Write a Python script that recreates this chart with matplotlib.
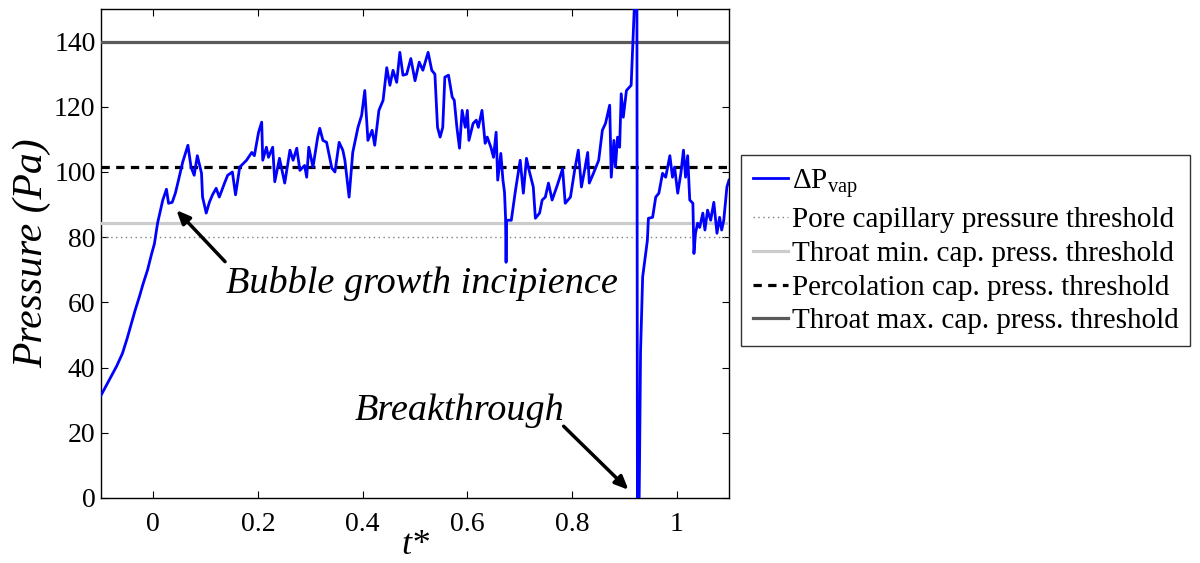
import matplotlib
matplotlib.use("Agg")
import matplotlib.pyplot as plt

plt.rcParams['font.family'] = ['Liberation Serif', 'DejaVu Serif']
plt.rcParams['mathtext.fontset'] = 'custom'
plt.rcParams['mathtext.rm'] = 'Liberation Serif'
plt.rcParams['mathtext.it'] = 'Liberation Serif:italic'

# Time (t*) and vapour pressure difference (Pa)
t_star = [-0.100, -0.085, -0.070, -0.059, -0.050, -0.042, -0.035, -0.027, -0.020, -0.011,
          -0.004, 0.002, 0.008, 0.018, 0.025, 0.029, 0.036, 0.042, 0.048, 0.056,
          0.066, 0.072, 0.078, 0.084, 0.092, 0.094, 0.101, 0.107, 0.113, 0.120,
          0.126, 0.136, 0.142, 0.151, 0.157, 0.165, 0.178, 0.188, 0.193, 0.201,
          0.207, 0.209, 0.216, 0.220, 0.228, 0.232, 0.241, 0.247, 0.251, 0.261,
          0.267, 0.274, 0.280, 0.289, 0.293, 0.297, 0.305, 0.314, 0.318, 0.324,
          0.331, 0.341, 0.347, 0.355, 0.362, 0.366, 0.374, 0.381, 0.391, 0.398,
          0.404, 0.410, 0.418, 0.423, 0.431, 0.439, 0.446, 0.452, 0.458, 0.465,
          0.471, 0.477, 0.484, 0.492, 0.500, 0.508, 0.515, 0.525, 0.532, 0.538,
          0.543, 0.548, 0.553, 0.557, 0.564, 0.571, 0.575, 0.580, 0.585, 0.590,
          0.596, 0.600, 0.603, 0.611, 0.617, 0.621, 0.628, 0.634, 0.638, 0.645,
          0.650, 0.655, 0.658, 0.664, 0.668, 0.671, 0.673, 0.674, 0.675, 0.684,
          0.692, 0.701, 0.707, 0.713, 0.718, 0.726, 0.730, 0.738, 0.743, 0.749,
          0.755, 0.762, 0.772, 0.782, 0.787, 0.797, 0.805, 0.812, 0.818, 0.824,
          0.830, 0.833, 0.841, 0.851, 0.858, 0.864, 0.872, 0.875, 0.880, 0.883,
          0.887, 0.891, 0.894, 0.898, 0.904, 0.908, 0.913, 0.917, 0.921, 0.924,
          0.925, 0.928, 0.929, 0.931, 0.935, 0.940, 0.944, 0.946, 0.954, 0.960,
          0.966, 0.973, 0.979, 0.987, 0.992, 0.996, 1.002, 1.008, 1.013, 1.017,
          1.021, 1.025, 1.031, 1.033, 1.036, 1.040, 1.044, 1.050, 1.054, 1.059,
          1.065, 1.071, 1.077, 1.082, 1.086, 1.090, 1.096, 1.100]
dp_vap = [31.5, 36.0, 40.5, 44.4, 49.0, 53.6, 57.5, 61.6, 65.5, 70.0,
          74.5, 78.0, 84.3, 91.4, 94.7, 90.4, 90.7, 93.5, 97.5, 103.0,
          108.2, 101.5, 99.0, 105.0, 99.6, 92.3, 87.4, 90.7, 93.0, 95.0,
          92.3, 96.6, 99.0, 100.0, 93.0, 101.5, 103.6, 106.0, 105.0, 112.2,
          115.3, 103.6, 107.6, 104.5, 107.6, 97.0, 104.2, 99.6, 96.6, 106.7,
          103.6, 107.3, 100.5, 102.0, 98.4, 107.6, 101.5, 110.7, 113.4, 109.7,
          109.1, 101.2, 100.0, 109.1, 106.7, 103.6, 92.3, 106.0, 113.7, 117.4,
          125.0, 109.7, 112.8, 108.2, 118.9, 122.0, 132.0, 126.6, 131.2, 127.5,
          136.7, 129.7, 130.0, 134.8, 128.0, 133.7, 131.2, 136.7, 131.2, 130.0,
          113.7, 110.7, 113.7, 129.1, 129.7, 123.0, 122.0, 113.7, 107.3, 118.9,
          113.7, 118.9, 109.7, 114.9, 115.9, 113.7, 118.9, 108.8, 110.7, 107.6,
          104.5, 112.2, 97.5, 105.7, 97.5, 93.8, 86.1, 72.3, 85.2, 85.2,
          94.4, 103.6, 93.5, 104.2, 100.5, 95.4, 85.8, 87.4, 91.4, 92.3,
          96.6, 91.4, 96.0, 101.0, 90.4, 92.3, 100.5, 106.7, 95.4, 100.5,
          106.0, 96.6, 99.6, 103.6, 112.8, 114.9, 120.5, 98.4, 109.7, 101.5,
          110.7, 107.6, 124.0, 116.8, 125.0, 125.7, 126.6, 142.5, 158.0, 158.0,
          -5.0, -5.0, 10.0, 45.0, 67.8, 74.0, 79.0, 85.8, 86.1, 92.3,
          93.5, 99.6, 98.4, 105.0, 98.4, 101.5, 93.5, 99.6, 106.7, 98.4,
          105.0, 91.4, 90.4, 75.0, 81.2, 84.3, 83.0, 87.4, 82.2, 88.3,
          85.2, 90.7, 81.2, 86.1, 82.2, 85.2, 95.4, 97.5]

# Threshold levels (Pa)
pore_cap = 80.0
throat_min = 84.4
percolation = 101.6
throat_max = 140.0

fig = plt.figure(figsize=(12, 5.63), dpi=100)
ax = fig.add_axes([0.0842, 0.1155, 0.5233, 0.8685])

ax.plot(t_star, dp_vap, color='#0000ff', lw=2.0, label=r'$\Delta$P$_{\mathrm{vap}}$', zorder=5)
ax.axhline(pore_cap, color='#808080', lw=1.0, ls=(0, (1, 2.5)), label='Pore capillary pressure threshold', zorder=2)
ax.axhline(throat_min, color='#cccccc', lw=2.3, label='Throat min. cap. press. threshold', zorder=3)
ax.axhline(percolation, color='black', lw=2.3, ls=(0, (2.6, 2.0)), label='Percolation cap. press. threshold', zorder=4)
ax.axhline(throat_max, color='#5a5a5a', lw=2.3, label='Throat max. cap. press. threshold', zorder=4)

ax.set_xlim(-0.1, 1.1)
ax.set_ylim(0, 150)
ax.set_xticks([0, 0.2, 0.4, 0.6, 0.8, 1])
ax.set_xticklabels(['0', '0.2', '0.4', '0.6', '0.8', '1'])
ax.set_yticks([0, 20, 40, 60, 80, 100, 120, 140])
ax.tick_params(direction='in', top=True, right=True, length=5, width=0.8, labelsize=20)
ax.tick_params(axis='x', pad=10)
ax.tick_params(axis='y', pad=4)
for s in ax.spines.values():
    s.set_linewidth(1.0)

ax.set_ylabel('Pressure (Pa)', fontsize=30, style='italic', labelpad=2)
ax.set_xlabel('t*', fontsize=26, style='italic', labelpad=-6)

ax.annotate('', xy=(0.044, 88.3), xytext=(0.137, 72.5),
            arrowprops=dict(arrowstyle='-|>,head_length=0.8,head_width=0.35', color='black', lw=2.5,
                            shrinkA=0, shrinkB=0))
ax.text(0.138, 63, 'Bubble growth incipience', fontsize=27.5, style='italic', ha='left', va='baseline')

ax.annotate('', xy=(0.908, 2.5), xytext=(0.784, 22),
            arrowprops=dict(arrowstyle='-|>,head_length=0.8,head_width=0.35', color='black', lw=2.5,
                            shrinkA=0, shrinkB=0))
ax.text(0.385, 24, 'Breakthrough', fontsize=27.5, style='italic', ha='left', va='baseline')

leg = fig.legend(loc='upper left', bbox_to_anchor=(0.6175, 0.7247), fontsize=21,
                 frameon=True, fancybox=False, edgecolor='black', handlelength=1.2,
                 handletextpad=0.15, borderpad=0.4, labelspacing=0.25, borderaxespad=0)
leg.get_frame().set_linewidth(1.0)

fig.savefig('out.png', dpi=100)
